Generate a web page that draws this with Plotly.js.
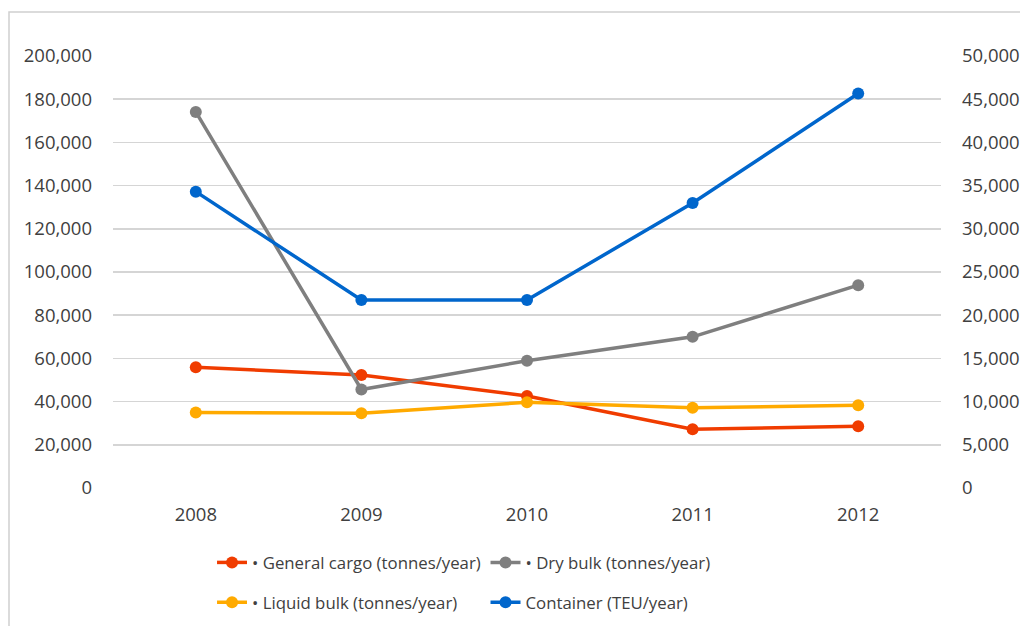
<!DOCTYPE html>
<html>
<head>
<meta charset="utf-8">
<script src="https://cdn.plot.ly/plotly-3.0.1.min.js"></script>
<style>
html,body{margin:0;padding:0;background:#fff;}
#chart{width:1020px;height:626px;}
</style>
</head>
<body>
<div id="chart"></div>
<script>
const years = ['2008', '2009', '2010', '2011', '2012'];
const generalCargo = [55900, 52300, 42600, 27200, 28600];
const dryBulk = [174100, 45600, 58900, 70000, 93900];
const liquidBulk = [35000, 34600, 39700, 37100, 38300];
const container = [34300, 21760, 21760, 32980, 45650];

const names = ['• General cargo (tonnes/year)', '• Dry bulk (tonnes/year)', '• Liquid bulk (tonnes/year)', 'Container (TEU/year)'];
const colors = ['#F03C00', '#7F7F7F', '#FFAA00', '#0066CC'];

function tr(y, i, axis, leg, grp) {
  return {
    x: years, y: y, name: names[i], type: 'scatter', mode: 'lines+markers',
    yaxis: axis, legend: leg, legendgroup: grp,
    line: {color: colors[i], width: 3.5},
    marker: {color: colors[i], size: 12}
  };
}

const data = [
  tr(generalCargo, 0, 'y', 'legend', 'a'),
  tr(dryBulk, 1, 'y', 'legend2', 'c'),
  tr(liquidBulk, 2, 'y', 'legend', 'b'),
  tr(container, 3, 'y2', 'legend2', 'd')
];

const fontFam = '"Open Sans", "Liberation Sans", sans-serif';
const txt = '#404040';
const legCommon = {
  orientation: 'v', xanchor: 'left', yanchor: 'top', yref: 'container',
  font: {family: fontFam, size: 16.8, color: txt},
  bgcolor: 'rgba(0,0,0,0)', traceorder: 'grouped', tracegroupgap: 15,
  itemclick: false
};

const layout = {
  width: 1020, height: 626,
  margin: {l: 113, r: 79, t: 56, b: 138},
  paper_bgcolor: '#ffffff', plot_bgcolor: '#ffffff',
  font: {family: fontFam, size: 18.5, color: txt},
  showlegend: true,
  xaxis: {
    type: 'category', range: [-0.5, 4.5], showgrid: false, zeroline: false,
    showline: false, ticks: '', tickfont: {family: fontFam, size: 18.5, color: txt},
    ticklabelstandoff: 13
  },
  yaxis: {
    range: [0, 200000], dtick: 20000, tickformat: ',d', showgrid: true,
    gridcolor: '#D5D5D5', gridwidth: 1.6, zeroline: false, showline: false,
    ticks: '', tickfont: {family: fontFam, size: 18.5, color: txt}, ticklabelstandoff: 20
  },
  yaxis2: {
    range: [0, 50000], dtick: 5000, tickformat: ',d', overlaying: 'y', side: 'right',
    showgrid: false, zeroline: false, showline: false, ticks: '',
    tickfont: {family: fontFam, size: 18.5, color: txt}, ticklabelstandoff: 20
  },
  legend: Object.assign({x: 0.1196, y: 0.1294}, legCommon),
  legend2: Object.assign({x: 0.4499, y: 0.1294}, legCommon),
  shapes: [{
    type: 'rect', xref: 'paper', yref: 'paper',
    x0: (9 - 113) / 828, x1: 1.2, y0: -0.5, y1: (488 - 12) / 432,
    line: {color: '#D0D0D0', width: 1.5}, fillcolor: 'rgba(0,0,0,0)', layer: 'below'
  }]
};

Plotly.newPlot('chart', data, layout, {displayModeBar: false, staticPlot: true});
</script>
</body>
</html>
